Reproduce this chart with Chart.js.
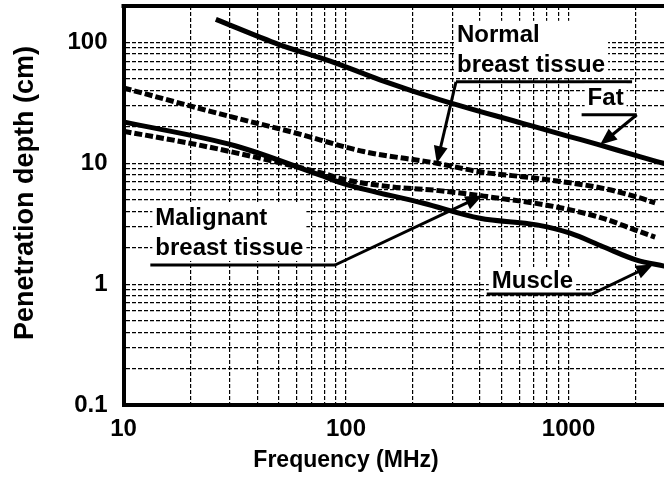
<!DOCTYPE html>
<html lang="en">
<head>
  <meta charset="UTF-8">
  <title>Penetration depth vs frequency</title>
  <script src="https://cdn.jsdelivr.net/npm/chart.js@4.4.0/dist/chart.umd.min.js"></script>
  <style>
    html, body { margin: 0; padding: 0; background: #fff; overflow: hidden; }
    canvas { display: block; }
  </style>
</head>
<body>
  <canvas id="depth" width="680" height="479"></canvas>

  <script>
    // frequency (MHz) and penetration depth (cm) for each tissue
    const fatFreq = [26, 50, 85, 142, 265, 627, 1000, 1340, 2000, 2670, 3000]
    const fatDepth = [155, 96, 70, 49, 33.5, 21.3, 16.7, 14.4, 11.6, 10, 9.5]

    const normalFreq = [10, 19, 30, 58, 120, 256, 400, 720, 1430, 2000, 2450]
    const normalDepth = [42, 30.5, 24.4, 18, 12.5, 10, 8.5, 7.5, 6.2, 5.3, 4.7]

    const malignantFreq = [10, 20, 32, 76, 100, 158, 247, 373, 430, 854, 1430, 2000, 2450]
    const malignantDepth = [18.4, 14.6, 12.2, 8.4, 7.3, 6.4, 6.0, 5.5, 5.3, 4.4, 3.5, 2.8, 2.45]

    const muscleFreq = [10, 32, 76, 100, 223, 400, 720, 1016, 1430, 2025, 2690, 3000]
    const muscleDepth = [22, 13.9, 8.0, 6.7, 4.67, 3.51, 3.09, 2.64, 2.04, 1.58, 1.41, 1.35]

    // grid positions (1..9 per decade) and the ones that get a label
    const freqGrid = [10, 20, 30, 40, 50, 60, 70, 80, 90, 100, 200, 300, 400, 500, 600, 700, 800, 900, 1000, 2000, 3000]
    const depthGrid = [0.1, 0.2, 0.3, 0.4, 0.5, 0.6, 0.7, 0.8, 0.9, 1, 2, 3, 4, 5, 6, 7, 8, 9, 10, 20, 30, 40, 50, 60, 70, 80, 90, 100, 200]
    const freqLabels = [10, 100, 1000]
    const depthLabels = [0.1, 1, 10, 100]

    // callouts: text, underline [x from, x to, y] and arrow tip [x, y], all in data units
    const notes = [
      { text: ['Normal', 'breast tissue'], line: [312, 1930, 47.2], from: 0, tip: [256, 10], dx: 1, gap: 10 },
      { text: ['Fat'], line: [1145, 2025, 25.2], from: 1, tip: [1385, 14.2], dx: 6, gap: 10 },
      { text: ['Malignant', 'breast tissue'], line: [13.2, 89.3, 1.44], from: 1, tip: [410, 5.4], dx: 5, gap: 10 },
      { text: ['Muscle'], line: [429, 1271, 0.828], from: 1, tip: [2400, 1.45], dx: 5, gap: 6 }
    ]

    const FONT = '"Liberation Sans", Arial, sans-serif'

    const pairs = (xs, ys) => xs.map((v, i) => ({ x: v, y: ys[i] }))

    function curve(label, xs, ys, dashed) {
      return {
        label: label,
        data: pairs(xs, ys),
        borderColor: '#000',
        borderWidth: 5,
        borderDash: dashed ? [8, 3] : [],
        borderCapStyle: 'butt',
        pointRadius: 0,
        fill: false,
        cubicInterpolationMode: 'monotone'
      }
    }

    const near = (v, list) => list.some(t => Math.abs(v - t) < t * 1e-6)

    // titles, top frame line and the labelled arrows
    const decorations = {
      id: 'decorations',
      afterDatasetsDraw(chart) {
        const { ctx, chartArea: a, scales: { x, y } } = chart
        ctx.save()

        ctx.strokeStyle = '#000'
        ctx.lineWidth = 4
        ctx.beginPath()
        ctx.moveTo(a.left - 2, a.top)
        ctx.lineTo(a.right + 2, a.top)
        ctx.stroke()

        ctx.font = 'bold 24px ' + FONT
        ctx.textBaseline = 'alphabetic'
        ctx.textAlign = 'left'
        for (const n of notes) {
          const x0 = x.getPixelForValue(n.line[0])
          const x1 = x.getPixelForValue(n.line[1])
          const ly = y.getPixelForValue(n.line[2])
          const tx = x0 + n.dx
          const lastBase = ly - n.gap
          const firstBase = lastBase - (n.text.length - 1) * 30
          const w = Math.max(...n.text.map(t => ctx.measureText(t).width))

          ctx.fillStyle = '#fff'
          ctx.fillRect(tx - 3, firstBase - 21, w + 6, lastBase - firstBase + 27)
          ctx.fillStyle = '#000'
          n.text.forEach((t, i) => ctx.fillText(t, tx, firstBase + i * 30))

          ctx.lineWidth = 3
          ctx.beginPath()
          ctx.moveTo(x0, ly)
          ctx.lineTo(x1, ly)
          ctx.stroke()

          // leader to the curve with a filled head
          const sx = n.from ? x1 : x0
          const ex = x.getPixelForValue(n.tip[0])
          const ey = y.getPixelForValue(n.tip[1])
          const ang = Math.atan2(ey - ly, ex - sx)
          const head = 17
          const half = 7
          ctx.beginPath()
          ctx.moveTo(sx, ly)
          ctx.lineTo(ex - Math.cos(ang) * head * 0.8, ey - Math.sin(ang) * head * 0.8)
          ctx.stroke()
          ctx.beginPath()
          ctx.moveTo(ex, ey)
          ctx.lineTo(ex - Math.cos(ang) * head + Math.sin(ang) * half, ey - Math.sin(ang) * head - Math.cos(ang) * half)
          ctx.lineTo(ex - Math.cos(ang) * head - Math.sin(ang) * half, ey - Math.sin(ang) * head + Math.cos(ang) * half)
          ctx.closePath()
          ctx.fill()
        }

        // axis titles
        ctx.font = 'bold 23px ' + FONT
        ctx.textAlign = 'center'
        ctx.textBaseline = 'alphabetic'
        ctx.fillText('Frequency (MHz)', x.getPixelForValue(100), 467)

        ctx.font = 'bold 27px ' + FONT
        ctx.translate(33, 193)
        ctx.rotate(-Math.PI / 2)
        ctx.fillText('Penetration depth (cm)', 0, 0)
        ctx.restore()
      }
    }

    new Chart(document.getElementById('depth'), {
      type: 'line',
      data: {
        datasets: [
          curve('Fat', fatFreq, fatDepth, false),
          curve('Normal breast tissue', normalFreq, normalDepth, true),
          curve('Malignant breast tissue', malignantFreq, malignantDepth, true),
          curve('Muscle', muscleFreq, muscleDepth, false)
        ]
      },
      options: {
        responsive: false,
        animation: false,
        layout: { padding: { left: 0, top: 6, right: 5.3, bottom: 0 } },
        plugins: { legend: { display: false }, tooltip: { enabled: false } },
        scales: {
          x: {
            type: 'logarithmic',
            min: 10,
            max: 3000,
            afterBuildTicks: s => { s.ticks = freqGrid.map(v => ({ value: v })) },
            afterFit: s => { s.height = 74; s.paddingLeft = 0; s.paddingRight = 0 },
            grid: { color: '#000', lineWidth: 1.2, drawTicks: false },
            border: { display: true, color: '#000', width: 4, dash: [4, 2] },
            ticks: {
              autoSkip: false,
              maxRotation: 0,
              padding: 10,
              color: '#000',
              font: { family: FONT, size: 24, weight: 'bold' },
              callback: v => near(v, freqLabels) ? String(v) : ''
            }
          },
          y: {
            type: 'logarithmic',
            min: 0.1,
            max: 200,
            afterBuildTicks: s => { s.ticks = depthGrid.map(v => ({ value: v })) },
            afterFit: s => { s.width = 123.5; s.paddingTop = 0; s.paddingBottom = 0 },
            grid: { color: '#000', lineWidth: 1.2, drawTicks: false },
            border: { display: true, color: '#000', width: 4, dash: [4, 2] },
            ticks: {
              autoSkip: false,
              padding: 16,
              color: '#000',
              font: { family: FONT, size: 24, weight: 'bold' },
              callback: v => near(v, depthLabels) ? String(v) : ''
            }
          }
        }
      },
      plugins: [decorations]
    })
  </script>
</body>
</html>
